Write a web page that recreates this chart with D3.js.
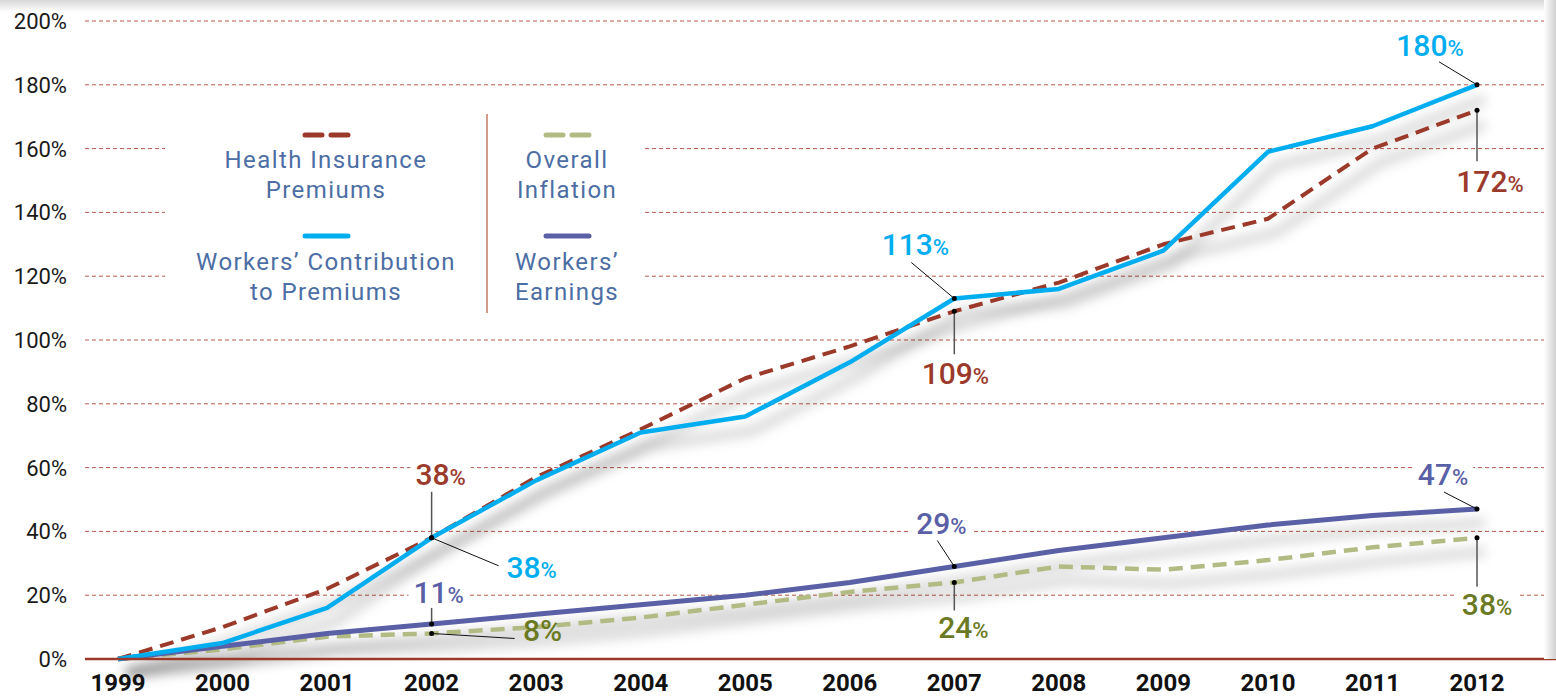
<!DOCTYPE html>
<html>
<head>
	<meta charset="utf-8">
	<title>Premiums vs Earnings</title>
	<script src="https://cdn.jsdelivr.net/npm/d3@7"></script>
	<style>
		body { margin: 0; background: #fff; }
		svg { display: block; font-family: Roboto, "Open Sans", sans-serif; }
	</style>
</head>
<body>
	<div id="chart"></div>
	<script type="text/javascript">
		// chart data
		var years = [1999, 2000, 2001, 2002, 2003, 2004, 2005, 2006, 2007, 2008, 2009, 2010, 2011, 2012];
		var healthPremiums = [0, 10, 22, 38, 57, 72, 88, 98, 109, 118, 130, 138, 160, 172];
		var workersContribution = [0, 5, 16, 38, 56, 71, 76, 93, 113, 116, 128, 159, 167, 180];
		var workersEarnings = [0, 4, 8, 11, 14, 17, 20, 24, 29, 34, 38, 42, 45, 47];
		var overallInflation = [0, 3, 7, 8, 10, 13, 17, 21, 24, 29, 28, 31, 35, 38];
		var yTicks = [0, 20, 40, 60, 80, 100, 120, 140, 160, 180, 200];

		var width = 1556, height = 700;

		var svg = d3.select("#chart").append("svg")
			.attr("width", width)
			.attr("height", height);

		var defs = svg.append("defs");

		var topGrad = defs.append("linearGradient").attr("id", "topShade")
			.attr("x1", 0).attr("y1", 0).attr("x2", 0).attr("y2", 1);
		topGrad.append("stop").attr("offset", "0%").attr("stop-color", "#d8d8d8");
		topGrad.append("stop").attr("offset", "100%").attr("stop-color", "#fff");

		var rightGrad = defs.append("linearGradient").attr("id", "rightShade")
			.attr("x1", 0).attr("y1", 0).attr("x2", 1).attr("y2", 0);
		rightGrad.append("stop").attr("offset", "0%").attr("stop-color", "#fff");
		rightGrad.append("stop").attr("offset", "100%").attr("stop-color", "#d0d0d0");

		defs.append("filter").attr("id", "blur")
			.attr("x", "-10%").attr("y", "-30%").attr("width", "120%").attr("height", "160%")
			.append("feGaussianBlur").attr("stdDeviation", 6);

		svg.append("rect").attr("x", 0).attr("y", 0).attr("width", width).attr("height", 12)
			.attr("fill", "url(#topShade)");

		var x = d3.scaleLinear().domain([1999, 2012]).range([118, 1477]);
		var y = d3.scaleLinear().domain([0, 200]).range([659, 21]);

		// grid lines
		svg.append("g").selectAll("line")
			.data(yTicks.filter(function(d) { return d > 0; }))
			.enter().append("line")
			.attr("x1", 85).attr("x2", width)
			.attr("y1", function(d) { return y(d); })
			.attr("y2", function(d) { return y(d); })
			.attr("stroke", "#b9584a")
			.attr("stroke-width", 1)
			.attr("stroke-dasharray", "4,3");

		// y labels
		svg.append("g").selectAll("text")
			.data(yTicks)
			.enter().append("text")
			.attr("x", 67)
			.attr("y", function(d) { return y(d) + 8; })
			.attr("text-anchor", "end")
			.attr("font-size", 22)
			.attr("fill", "#1a1a1a")
			.text(function(d) { return d + "%"; });

		var series = [
			{ name: "inflation", values: overallInflation, color: "#b3bb85", label: "#6b7a22", dash: "14,8", width: 4.5 },
			{ name: "earnings", values: workersEarnings, color: "#5a60a6", label: "#5a60a6", dash: null, width: 5 },
			{ name: "health", values: healthPremiums, color: "#9b3a2b", label: "#9b3a2b", dash: "14,8", width: 4 },
			{ name: "contribution", values: workersContribution, color: "#00adef", label: "#00adef", dash: null, width: 4.5 }
		];

		var line = d3.line()
			.x(function(d, i) { return x(years[i]); })
			.y(function(d) { return y(d); });

		// white patches behind callout labels (filled in later)
		var labelBacks = svg.append("g");

		// soft shadow under lines
		var shadow = svg.append("g").attr("filter", "url(#blur)").attr("transform", "translate(8,14)");
		series.forEach(function(s) {
			shadow.append("path")
				.attr("d", line(s.values))
				.attr("fill", "none")
				.attr("stroke", "#000")
				.attr("stroke-opacity", 0.15)
				.attr("stroke-width", 10);
		});

		// legend box
		var legend = svg.append("g");
		legend.append("rect").attr("x", 165).attr("y", 100).attr("width", 480).attr("height", 218).attr("fill", "#fff");
		legend.append("line").attr("x1", 487).attr("x2", 487).attr("y1", 114).attr("y2", 313)
			.attr("stroke", "#c47a66").attr("stroke-width", 1.5);

		var legendItems = [
			{ s: series[2], cx: 326, ly: 135, text: ["Health Insurance", "Premiums"], ty: 168 },
			{ s: series[3], cx: 326, ly: 236, text: ["Workers\u2019 Contribution", "to Premiums"], ty: 270 },
			{ s: series[0], cx: 567, ly: 135, text: ["Overall", "Inflation"], ty: 168 },
			{ s: series[1], cx: 567, ly: 236, text: ["Workers\u2019", "Earnings"], ty: 270 }
		];
		legendItems.forEach(function(it) {
			legend.append("line")
				.attr("x1", it.cx - 21).attr("x2", it.cx + 22)
				.attr("y1", it.ly).attr("y2", it.ly)
				.attr("stroke", it.s.color)
				.attr("stroke-width", 5)
				.attr("stroke-linecap", "round")
				.attr("stroke-dasharray", it.s.dash ? "17,9" : null);
			it.text.forEach(function(t, j) {
				legend.append("text")
					.attr("x", it.cx).attr("y", it.ty + j * 30)
					.attr("text-anchor", "middle")
					.attr("font-size", 24)
					.attr("letter-spacing", 1.4)
					.attr("fill", "#4c6ea4")
					.text(t);
			});
		});

		// series lines
		series.forEach(function(s) {
			svg.append("path")
				.attr("d", line(s.values))
				.attr("fill", "none")
				.attr("stroke", s.color)
				.attr("stroke-width", s.width)
				.attr("stroke-dasharray", s.dash)
				.attr("stroke-linejoin", "round");
		});

		// x axis
		svg.append("line").attr("x1", 85).attr("x2", width).attr("y1", 659).attr("y2", 659)
			.attr("stroke", "#9b3a2b").attr("stroke-width", 2.5);

		svg.append("g").selectAll("text")
			.data(years)
			.enter().append("text")
			.attr("x", function(d) { return x(d); })
			.attr("y", 691)
			.attr("text-anchor", "middle")
			.attr("font-size", 24)
			.attr("font-weight", "bold")
			.attr("fill", "#111")
			.text(function(d) { return d; });

		// callouts: series index, year, label offset, leader end offset
		var callouts = [
			{ s: 3, year: 2012, dx: -47, dy: -29, lx: -38, ly: -23 },
			{ s: 2, year: 2012, dx: 13, dy: 82, lx: 0, ly: 51 },
			{ s: 3, year: 2007, dx: -39, dy: -44, lx: -43, ly: -36 },
			{ s: 2, year: 2007, dx: 1, dy: 73, lx: 0, ly: 43 },
			{ s: 2, year: 2002, dx: 9, dy: -53, lx: 0, ly: -46 },
			{ s: 3, year: 2002, dx: 100, dy: 40, lx: 67, ly: 28 },
			{ s: 1, year: 2002, dx: 7, dy: -21, lx: 0, ly: -16 },
			{ s: 0, year: 2002, dx: 111, dy: 8, lx: 83, ly: 5, bigPct: true },
			{ s: 1, year: 2007, dx: -13, dy: -32, lx: -17, ly: -26 },
			{ s: 0, year: 2007, dx: 9, dy: 56, lx: 0, ly: 28 },
			{ s: 1, year: 2012, dx: -34, dy: -24, lx: -33, ly: -17 },
			{ s: 0, year: 2012, dx: 10, dy: 77, lx: 0, ly: 49 }
		];

		var notes = svg.append("g");
		callouts.forEach(function(c) {
			var s = series[c.s];
			var v = s.values[years.indexOf(c.year)];
			var px = x(c.year), py = y(v);
			var vertical = c.lx === 0;

			var g = notes.append("g");
			var txt = g.append("text")
				.attr("x", px + c.dx).attr("y", py + c.dy)
				.attr("text-anchor", "middle")
				.attr("fill", s.label)
				.attr("font-size", 30)
				.attr("font-weight", 500);
			txt.append("tspan").text(v);
			txt.append("tspan").attr("font-size", c.bigPct ? 30 : 22).text("%");

			var bb = txt.node().getBBox();
			labelBacks.append("rect")
				.attr("x", bb.x - 5).attr("y", bb.y + 2)
				.attr("width", bb.width + 10).attr("height", bb.height - 4)
				.attr("fill", "#fff");

			g.append("line")
				.attr("x1", px).attr("y1", py)
				.attr("x2", px + c.lx).attr("y2", py + c.ly)
				.attr("stroke", vertical ? "#555" : "#111")
				.attr("stroke-width", vertical ? 1.5 : 1);
			g.append("circle")
				.attr("cx", px).attr("cy", py).attr("r", 2.5)
				.attr("fill", "#000");
		});

		svg.append("rect").attr("x", width - 12).attr("y", 0).attr("width", 12).attr("height", 659)
			.attr("fill", "url(#rightShade)");
	</script>
</body>
</html>
